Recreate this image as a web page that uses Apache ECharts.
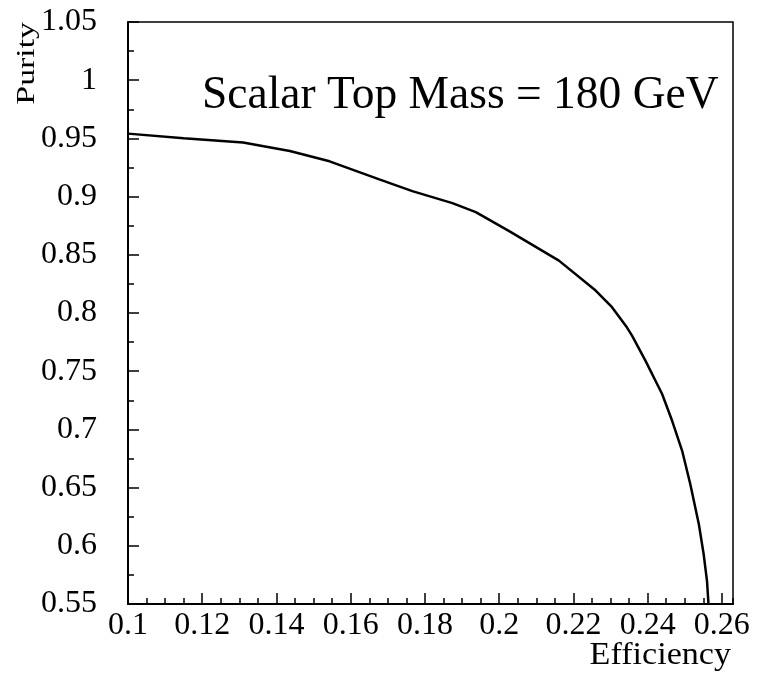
<!DOCTYPE html>
<html>
<head>
<meta charset="utf-8">
<script src="https://cdn.jsdelivr.net/npm/echarts@6/dist/echarts.min.js"></script>
<style>
html,body{margin:0;padding:0;background:#fff;}
#chart{width:758px;height:676px;}
</style>
</head>
<body>
<div id="chart"></div>
<script>
const efficiency = [0.100, 0.115, 0.131, 0.1436, 0.1543, 0.1677, 0.1766, 0.1874, 0.1937, 0.2027, 0.2161, 0.226, 0.2304, 0.2344, 0.2358, 0.2394, 0.2439, 0.2466, 0.2493, 0.2515, 0.2538, 0.2551, 0.2560, 0.2564];
const purity     = [0.9541, 0.9502, 0.9464, 0.9392, 0.9303, 0.9148, 0.9047, 0.8944, 0.8867, 0.8703, 0.845, 0.8193, 0.805, 0.7877, 0.7806, 0.7591, 0.7304, 0.7074, 0.6816, 0.6529, 0.6185, 0.5927, 0.5697, 0.5497];
const xTitle = 'Efficiency';
const yTitle = 'Purity';
const annotation = 'Scalar Top Mass = 180 GeV';

const FONT = "'Liberation Serif', 'DejaVu Serif', serif";
const chart = echarts.init(document.getElementById('chart'), null, {renderer: 'canvas'});

const option = {
  backgroundColor: '#fff',
  animation: false,
  grid: {
    left: 128, top: 22, right: 25, bottom: 72,
    show: true, borderColor: '#000', borderWidth: 1.5, backgroundColor: 'transparent'
  },
  xAxis: [
    {
      type: 'value', min: 0.1, max: 0.263, interval: 0.02,
      axisLine: {show: true, onZero: false, lineStyle: {color: '#000', width: 2}},
      axisTick: {show: true, inside: true, length: 11, lineStyle: {color: '#000', width: 1.5}},
      axisLabel: {show: true, margin: 6, showMaxLabel: false, color: '#000', fontFamily: FONT, fontSize: 32,
        formatter: v => String(+v.toFixed(3))},
      splitLine: {show: false}
    },
    {
      type: 'value', min: 0.1, max: 0.263, interval: 0.005, position: 'bottom',
      axisLine: {show: false},
      axisTick: {show: true, inside: true, length: 6, lineStyle: {color: '#000', width: 1.5}},
      axisLabel: {show: false},
      splitLine: {show: false}
    }
  ],
  yAxis: [
    {
      type: 'value', min: 0.55, max: 1.05, interval: 0.05,
      axisLine: {show: true, onZero: false, lineStyle: {color: '#000', width: 2}},
      axisTick: {show: true, inside: true, length: 11, lineStyle: {color: '#000', width: 1.5}},
      minorTick: {show: true, splitNumber: 2, length: 6, lineStyle: {color: '#000', width: 1.5}},
      axisLabel: {show: true, margin: 31, color: '#000', fontFamily: FONT, fontSize: 32,
        formatter: v => String(+v.toFixed(3))},
      splitLine: {show: false},
      minorSplitLine: {show: false}
    }
  ],
  graphic: [
    {type: 'text', left: 202, top: 73, z: 10,
      style: {text: annotation, fontFamily: FONT, fontSize: 45.5, fill: '#000'}},
    {type: 'text', x: 40, y: 22, rotation: Math.PI / 2, scaleX: 1.3, z: 10,
      style: {text: yTitle, fontFamily: FONT, fontSize: 26, fill: '#000', align: 'right', verticalAlign: 'bottom'}},
    {type: 'text', x: 731, y: 640, scaleX: 1.1, z: 10,
      style: {text: xTitle, fontFamily: FONT, fontSize: 31, fill: '#000', align: 'right', verticalAlign: 'top'}}
  ],
  series: [{
    type: 'line', xAxisIndex: 0, yAxisIndex: 0,
    data: efficiency.map((x, i) => [x, purity[i]]),
    showSymbol: false, symbol: 'none', smooth: false, clip: true,
    lineStyle: {color: '#000', width: 2.5}
  }]
};
chart.setOption(option);
</script>
</body>
</html>
